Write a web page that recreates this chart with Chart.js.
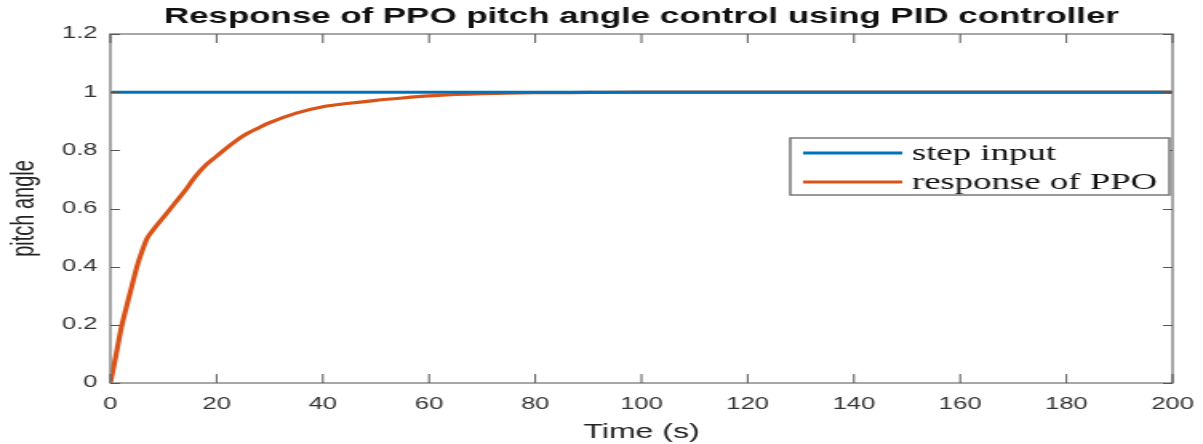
<!DOCTYPE html>
<html>
<head>
<meta charset="utf-8">
<script src="https://cdn.jsdelivr.net/npm/chart.js@4"></script>
<style>
  html, body { margin: 0; padding: 0; background: #fff; overflow: hidden; }
  /* the original figure was stretched sideways, so draw narrow and stretch */
  #wrap { width: 752px; height: 444px; transform: scale(1.5997, 1); transform-origin: 0 0; }
  #pitchChart { display: block; }
</style>
</head>
<body>
<div id="wrap"><canvas id="pitchChart" width="752" height="444"></canvas></div>
<script>
// time axis (s) and values
const stepTime = [0, 200];
const stepValues = [1, 1];

const responseTime = [0, 1, 2, 3, 4, 5, 6, 7, 8, 10, 12, 14, 16, 18, 20, 22, 25, 28, 30, 35, 40, 45, 50, 55, 60, 65, 70, 80, 90, 100, 120, 150, 200];
const responseValues = [0, 0.09, 0.185, 0.26, 0.33, 0.40, 0.455, 0.50, 0.525, 0.57, 0.615, 0.66, 0.71, 0.75, 0.78, 0.81, 0.85, 0.878, 0.895, 0.928, 0.95, 0.962, 0.972, 0.98, 0.987, 0.992, 0.995, 0.998, 0.999, 1, 1, 1, 1];

const xTicks = [0, 20, 40, 60, 80, 100, 120, 140, 160, 180, 200];
const yTicks = [0, 0.2, 0.4, 0.6, 0.8, 1, 1.2];

const seriesLabels = ['step input', 'response of PPO'];
const seriesColors = ['#0072BD', '#D95319'];

const toPoints = (xs, ys) => xs.map((x, i) => ({ x: x, y: ys[i] }));

// box round the axes with inward ticks, title and legend, like MATLAB
const boxPlugin = {
    id: 'box',
    afterDraw(chart) {
        const ctx = chart.ctx;
        const a = chart.chartArea;
        const xs = chart.scales.x, ys = chart.scales.y;
        ctx.save();
        ctx.strokeStyle = '#8a8a8a';
        ctx.lineWidth = 1.5;
        ctx.strokeRect(a.left, a.top, a.right - a.left, a.bottom - a.top);
        ctx.strokeStyle = '#555';
        ctx.lineWidth = 1;
        ctx.beginPath();
        xTicks.forEach(t => {
            const px = xs.getPixelForValue(t);
            ctx.moveTo(px, a.bottom); ctx.lineTo(px, a.bottom - 9);
            ctx.moveTo(px, a.top); ctx.lineTo(px, a.top + 9);
        });
        yTicks.forEach(t => {
            const py = Math.round(ys.getPixelForValue(t)) + 0.5;
            ctx.moveTo(a.left, py); ctx.lineTo(a.left + 6, py);
            ctx.moveTo(a.right, py); ctx.lineTo(a.right - 6, py);
        });
        ctx.stroke();

        // title
        ctx.fillStyle = '#111';
        ctx.font = 'bold 21.8px "Liberation Sans", Arial, sans-serif';
        ctx.textAlign = 'center';
        ctx.textBaseline = 'middle';
        ctx.fillText('Response of PPO pitch angle control using PID controller', (a.left + a.right) / 2, 17);

        // legend box
        const lx = 494, ly = 138, lw = 237, lh = 57;
        ctx.fillStyle = '#fff';
        ctx.fillRect(lx, ly, lw, lh);
        ctx.strokeStyle = '#777';
        ctx.lineWidth = 1.5;
        ctx.strokeRect(lx, ly, lw, lh);
        chart.data.datasets.forEach((ds, i) => {
            const cy = ly + 15 + i * 29;
            ctx.strokeStyle = ds.borderColor;
            ctx.lineWidth = 3;
            ctx.beginPath();
            ctx.moveTo(lx + 8, cy); ctx.lineTo(lx + 70, cy);
            ctx.stroke();
            ctx.fillStyle = '#111';
            ctx.font = '23px "Liberation Serif", "Times New Roman", serif';
            ctx.textAlign = 'left';
            ctx.textBaseline = 'middle';
            ctx.fillText(ds.label, lx + 76, cy + 1);
        });
        ctx.restore();
    }
};

new Chart(document.getElementById('pitchChart').getContext('2d'), {
    type: 'line',
    data: {
        datasets: [{
            label: seriesLabels[0],
            data: toPoints(stepTime, stepValues),
            borderColor: seriesColors[0],
            borderWidth: 3,
            pointRadius: 0,
            tension: 0
        }, {
            label: seriesLabels[1],
            data: toPoints(responseTime, responseValues),
            borderColor: seriesColors[1],
            borderWidth: 3.2,
            pointRadius: 0,
            cubicInterpolationMode: 'monotone'
        }]
    },
    options: {
        responsive: false,
        animation: false,
        maintainAspectRatio: false,
        devicePixelRatio: 1,
        layout: { padding: { top: 34, right: 19, left: 0, bottom: 0 } },
        plugins: {
            legend: { display: false },
            tooltip: { enabled: false },
            title: { display: false }
        },
        scales: {
            x: {
                type: 'linear',
                min: 0,
                max: 200,
                afterBuildTicks: s => { s.ticks = xTicks.map(v => ({ value: v })); },
                afterFit: s => { s.height = 61; s.paddingLeft = 0; s.paddingRight = 0; },
                grid: { display: false, drawTicks: false },
                border: { display: false },
                ticks: {
                    color: '#333',
                    padding: 12,
                    autoSkip: false,
                    maxRotation: 0,
                    font: { family: '"Liberation Sans", Arial, sans-serif', size: 16 }
                },
                title: {
                    display: true,
                    text: 'Time (s)',
                    color: '#222',
                    padding: 0,
                    font: { family: '"Liberation Sans", Arial, sans-serif', size: 20 }
                }
            },
            y: {
                min: 0,
                max: 1.2,
                afterBuildTicks: s => { s.ticks = yTicks.map(v => ({ value: v })); },
                afterFit: s => { s.width = 69; s.paddingTop = 0; s.paddingBottom = 0; },
                grid: { display: false, drawTicks: false },
                border: { display: false },
                ticks: {
                    color: '#333',
                    padding: 8,
                    autoSkip: false,
                    callback: v => String(+v.toFixed(1)),
                    font: { family: '"Liberation Sans", Arial, sans-serif', size: 16 }
                },
                title: {
                    display: true,
                    text: 'pitch angle',
                    color: '#222',
                    padding: { top: 3, bottom: 0 },
                    font: { family: '"Liberation Sans", Arial, sans-serif', size: 20 }
                }
            }
        }
    },
    plugins: [boxPlugin]
});
</script>
</body>
</html>
